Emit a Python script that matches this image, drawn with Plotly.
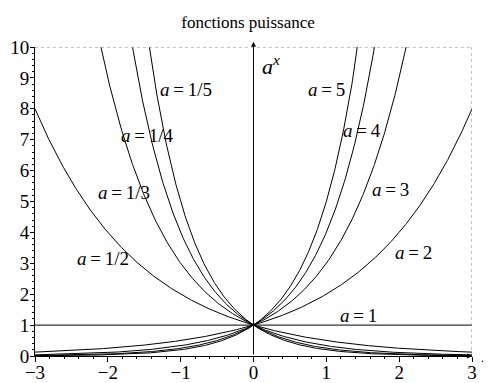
import numpy as np
import plotly.graph_objects as go

# Data
bases = [1/5, 1/4, 1/3, 1/2, 1, 2, 3, 4, 5]
base_labels = ["1/5", "1/4", "1/3", "1/2", "1", "2", "3", "4", "5"]
label_x = [-0.92, -1.45, -1.78, -2.07, 1.44, 2.19, 1.88, 1.49, 1.0]
label_y = [8.63, 7.13, 5.28, 3.14, 1.32, 3.34, 5.4, 7.3, 8.63]
x_ticks = [-3, -2, -1, 0, 1, 2, 3]
y_ticks = list(range(0, 11))
title_text = "fonctions puissance"

xs = np.linspace(-3, 3, 601)
FONT = "Liberation Serif"

fig = go.Figure()
for a in bases:
    fig.add_trace(go.Scatter(x=xs, y=a ** xs, mode="lines",
                             line=dict(color="black", width=1), showlegend=False,
                             hoverinfo="skip"))

annotations = []
for lab, lx, ly in zip(base_labels, label_x, label_y):
    annotations.append(dict(x=lx, y=ly, xref="x", yref="y", showarrow=False,
                            text="<i>a</i>\u2009=\u2009" + lab,
                            font=dict(family=FONT, size=19, color="black")))

# vertical axis arrow at x=0
annotations.append(dict(x=0, y=1.017, xref="x", yref="y domain", ax=0, ay=0,
                        axref="x", ayref="y domain", showarrow=True, arrowhead=2,
                        arrowsize=1, arrowwidth=1, arrowcolor="black", text=""))
# horizontal axis arrow at y=0
annotations.append(dict(x=3, y=0, xref="x", yref="y", ax=2.6, ay=0,
                        axref="x", ayref="y", showarrow=True, arrowhead=2,
                        arrowsize=1, arrowwidth=1, arrowcolor="black", text=""))
annotations.append(dict(x=0.24, y=9.42, xref="x", yref="y", showarrow=False,
                        text="<i>a</i><sup><i>x</i></sup>",
                        font=dict(family=FONT, size=22, color="black")))
annotations.append(dict(x=1.015, y=0.0, xref="paper", yref="paper", showarrow=False,
                        xanchor="left", yanchor="middle",
                        text="<i>x</i>",
                        font=dict(family=FONT, size=17, color="black")))

shapes = [
    dict(type="line", xref="x", yref="y", x0=-3, x1=3, y0=10, y1=10,
         line=dict(color="#888888", width=1, dash="dot")),
    dict(type="line", xref="x", yref="y", x0=3, x1=3, y0=0, y1=10,
         line=dict(color="#888888", width=1, dash="dot")),
]

fig.update_layout(
    width=483, height=375,
    margin=dict(l=27, r=19, t=39, b=27, autoexpand=False),
    paper_bgcolor="white", plot_bgcolor="white",
    title=dict(text=title_text, x=0.497, xanchor="center", y=0.963, yanchor="middle",
               font=dict(family=FONT, size=17, color="black")),
    annotations=annotations,
    shapes=shapes,
    font=dict(family=FONT, color="black"),
)
fig.update_xaxes(range=[-3, 3], tickvals=x_ticks, showgrid=False, zeroline=False,
                 automargin=False,
                 showline=True, linecolor="black", linewidth=1,
                 ticks="outside", ticklen=5, tickcolor="black",
                 ticklabelstandoff=-6,
                 tickfont=dict(family=FONT, size=19, color="black"),
                 minor=dict(ticks="outside", ticklen=2, dtick=0.2, tickcolor="black"))
fig.update_yaxes(range=[0, 10], tickvals=y_ticks, showgrid=False, zeroline=False,
                 automargin=False,
                 showline=True, linecolor="black", linewidth=1,
                 ticks="outside", ticklen=4, tickcolor="black",
                 ticklabelstandoff=-3,
                 tickfont=dict(family=FONT, size=19, color="black"),
                 minor=dict(ticks="outside", ticklen=2, dtick=0.2, tickcolor="black"))

fig.write_html("out.html")
